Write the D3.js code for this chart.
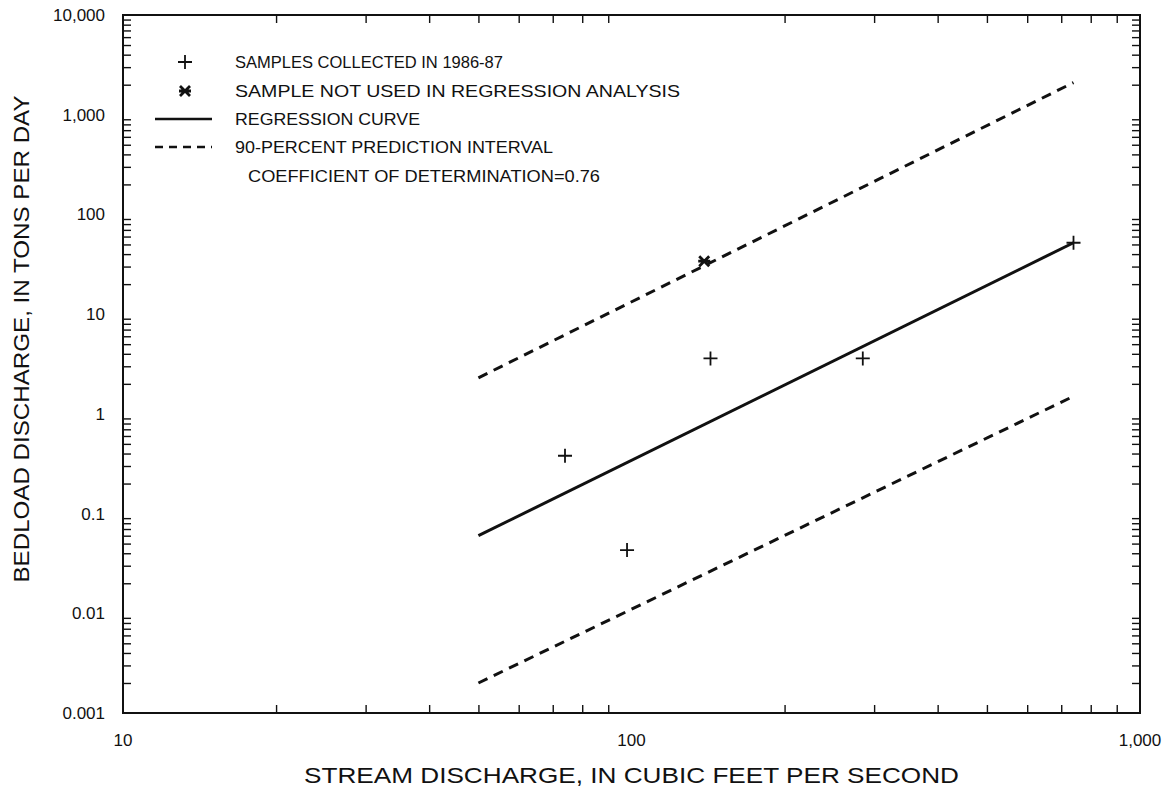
<!DOCTYPE html>
<html><head><meta charset="utf-8">
<script src="https://cdn.jsdelivr.net/npm/d3@7"></script>
<style>body{margin:0;background:#fff}svg{display:block}text{font-family:"Liberation Sans",Arial,sans-serif;fill:#111}</style>
</head><body><svg id="c" width="1170" height="793"></svg>
<script>
// Data
const sampleDischarge = [74, 98, 143, 285, 740];
const sampleBedload   = [0.38, 0.043, 3.6, 3.6, 52];
const excludedDischarge = [139];
const excludedBedload   = [34];
const curveDischarge = [50, 740];
const regressionBedload = [0.06, 52];
const upperBedload = [2.3, 2100];
const lowerBedload = [0.002, 1.5];
const xTickValues = [10, 100, 1000];
const xTickLabels = ["10", "100", "1,000"];
const yTickValues = [0.001, 0.01, 0.1, 1, 10, 100, 1000, 10000];
const yTickLabels = ["0.001", "0.01", "0.1", "1", "10", "100", "1,000", "10,000"];
const legendLabels = ["SAMPLES COLLECTED IN 1986-87", "SAMPLE NOT USED IN REGRESSION ANALYSIS", "REGRESSION CURVE", "90-PERCENT PREDICTION INTERVAL"];
const noteText = "COEFFICIENT OF DETERMINATION=0.76";
const xTitle = "STREAM DISCHARGE, IN CUBIC FEET PER SECOND";
const yTitle = "BEDLOAD DISCHARGE, IN TONS PER DAY";

// Layout
const L = 123, R = 1140, T = 15, B = 713;
const legendWidths = [268, 445, 185, 318];
const noteWidth = 352;

const svg = d3.select("#c");
const x = d3.scaleLog().domain([10, 1000]).range([L, R]);
const y = d3.scaleLog().domain([0.001, 10000]).range([B, T]);

// minor ticks
const xMinor = [];
for (let d = 10; d < 1000; d *= 10) for (let k = 2; k <= 9; k++) xMinor.push(d * k);
const yMinor = [];
for (let d = 0.001; d < 9999; d *= 10) for (let k = 2; k <= 9; k++) yMinor.push(+(d * k).toPrecision(3));

const g = svg.append("g");
const tickLen = 8;
g.append("g").attr("transform", `translate(0,${B})`)
  .call(d3.axisTop(x).tickValues(xMinor).tickSize(tickLen).tickFormat(""))
  .call(a => a.select(".domain").remove());
g.append("g").attr("transform", `translate(0,${T})`)
  .call(d3.axisBottom(x).tickValues(xMinor).tickSize(tickLen).tickFormat(""))
  .call(a => a.select(".domain").remove());
g.append("g").attr("transform", `translate(${L},0)`)
  .call(d3.axisRight(y).tickValues(yMinor).tickSize(tickLen).tickFormat(""))
  .call(a => a.select(".domain").remove());
g.append("g").attr("transform", `translate(${R},0)`)
  .call(d3.axisLeft(y).tickValues(yMinor).tickSize(tickLen).tickFormat(""))
  .call(a => a.select(".domain").remove());
g.selectAll(".tick line").attr("stroke", "#111").attr("stroke-width", 1.4);

// frame
svg.append("rect").attr("x", L).attr("y", T).attr("width", R - L).attr("height", B - T)
  .attr("fill", "none").attr("stroke", "#111").attr("stroke-width", 2);

// tick labels
svg.append("g").selectAll("text").data(xTickValues).join("text")
  .attr("x", d => x(d)).attr("y", B + 33).attr("text-anchor", "middle")
  .attr("font-size", 17).text((d, i) => xTickLabels[i]);
svg.append("g").selectAll("text").data(yTickValues).join("text")
  .attr("x", L - 18).attr("y", d => y(d) + 6).attr("text-anchor", "end")
  .attr("font-size", 17).text((d, i) => yTickLabels[i]);

// titles
svg.append("text").attr("x", (L + R) / 2).attr("y", 783).attr("text-anchor", "middle")
  .attr("font-size", 22).attr("textLength", 655).attr("lengthAdjust", "spacingAndGlyphs").text(xTitle);
svg.append("text").attr("transform", `translate(29,339) rotate(-90)`)
  .attr("text-anchor", "middle").attr("font-size", 22)
  .attr("textLength", 487).attr("lengthAdjust", "spacingAndGlyphs").text(yTitle);

// lines
const line = d3.line().x(d => x(d[0])).y(d => y(d[1]));
const mk = arr => curveDischarge.map((q, i) => [q, arr[i]]);
svg.append("path").attr("d", line(mk(regressionBedload))).attr("fill", "none")
  .attr("stroke", "#111").attr("stroke-width", 3);
[upperBedload, lowerBedload].forEach(a => svg.append("path").attr("d", line(mk(a)))
  .attr("fill", "none").attr("stroke", "#111").attr("stroke-width", 3).attr("stroke-dasharray", "10,7"));

// markers
function plus(sel, cx, cy) {
  sel.append("path").attr("d", `M${cx - 7},${cy}H${cx + 7}M${cx},${cy - 7}V${cy + 7}`)
    .attr("stroke", "#111").attr("stroke-width", 1.8).attr("fill", "none");
}
function star(sel, cx, cy) {
  sel.append("path").attr("d", `M${cx - 5},${cy - 5}L${cx + 5},${cy + 5}M${cx - 5},${cy + 5}L${cx + 5},${cy - 5}M${cx - 6},${cy}H${cx + 6}`)
    .attr("stroke", "#111").attr("stroke-width", 2.8).attr("fill", "none");
}
const pts = svg.append("g");
sampleDischarge.forEach((q, i) => plus(pts, x(q), y(sampleBedload[i])));
excludedDischarge.forEach((q, i) => star(pts, x(q), y(excludedBedload[i])));

// legend
const lg = svg.append("g");
const rowsY = [62, 91, 119, 147];
plus(lg, 185, rowsY[0]);
star(lg, 185, rowsY[1]);
lg.append("path").attr("d", `M155,${rowsY[2]}H212`).attr("stroke", "#111").attr("stroke-width", 2.5);
lg.append("path").attr("d", `M155,${rowsY[3]}H212`).attr("stroke", "#111").attr("stroke-width", 2.5).attr("stroke-dasharray", "8,6");
legendLabels.forEach((t, i) => lg.append("text").attr("x", 235).attr("y", rowsY[i] + 6)
  .attr("font-size", 17).attr("textLength", legendWidths[i]).attr("lengthAdjust", "spacingAndGlyphs").text(t));
lg.append("text").attr("x", 248).attr("y", 182).attr("font-size", 17)
  .attr("textLength", noteWidth).attr("lengthAdjust", "spacingAndGlyphs").text(noteText);
</script></body></html>
